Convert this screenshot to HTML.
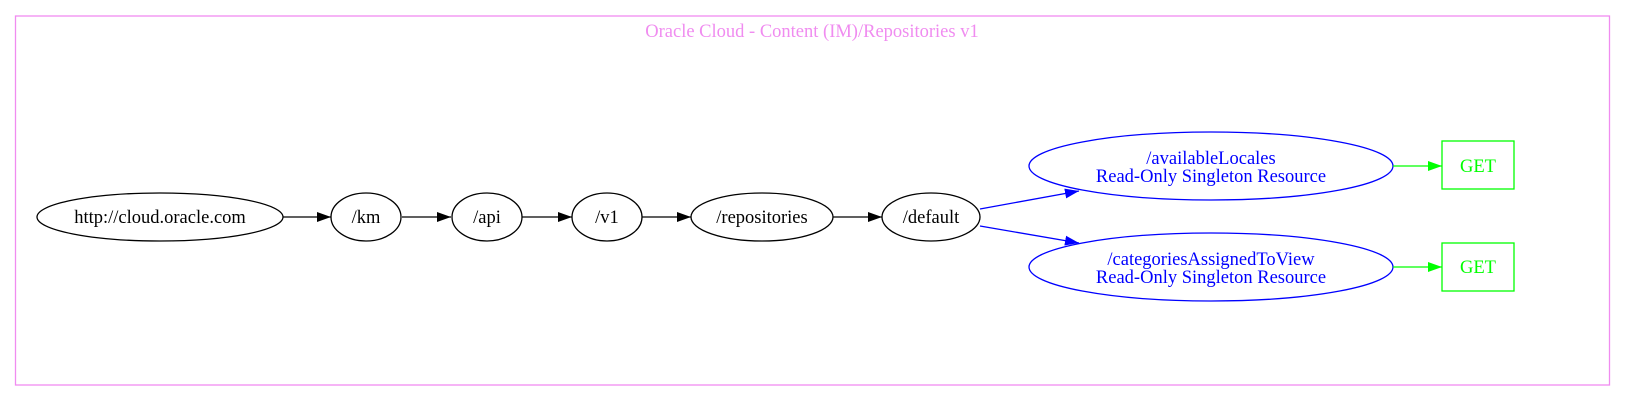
<!DOCTYPE html>
<html><head><style>
html,body{margin:0;padding:0;background:#fff;}
svg{display:block;}
text{font-family:"Liberation Serif",serif;font-size:18.5px;text-anchor:middle;}
</style></head><body>
<svg width="1627" height="403" viewBox="0 0 1627 403" xmlns="http://www.w3.org/2000/svg">
<defs>
<marker id="ak" markerWidth="14" markerHeight="10" refX="14" refY="5" orient="auto" markerUnits="userSpaceOnUse"><path d="M0,0 L14,5 L0,10 Z" fill="#000"/></marker>
<marker id="ab" markerWidth="14" markerHeight="10" refX="14" refY="5" orient="auto" markerUnits="userSpaceOnUse"><path d="M0,0 L14,5 L0,10 Z" fill="#00f"/></marker>
<marker id="ag" markerWidth="14" markerHeight="10" refX="14" refY="5" orient="auto" markerUnits="userSpaceOnUse"><path d="M0,0 L14,5 L0,10 Z" fill="#0f0"/></marker>
</defs>
<rect x="15.5" y="16" width="1594" height="369" fill="none" stroke="#f08cf0" stroke-width="1.3"/>
<text x="812" y="37" fill="#f08cf0">Oracle Cloud - Content (IM)/Repositories v1</text>
<g fill="none" stroke="#000" stroke-width="1.3">
<ellipse cx="160" cy="217" rx="123" ry="24"/>
<ellipse cx="366" cy="217" rx="35" ry="24"/>
<ellipse cx="487" cy="217" rx="35" ry="24"/>
<ellipse cx="607" cy="217" rx="35" ry="24"/>
<ellipse cx="762" cy="217" rx="71" ry="24"/>
<ellipse cx="931" cy="217" rx="49" ry="24"/>
<line x1="283" y1="217" x2="331" y2="217" marker-end="url(#ak)"/>
<line x1="402" y1="217" x2="451" y2="217" marker-end="url(#ak)"/>
<line x1="522" y1="217" x2="572" y2="217" marker-end="url(#ak)"/>
<line x1="642" y1="217" x2="691" y2="217" marker-end="url(#ak)"/>
<line x1="833" y1="217" x2="882" y2="217" marker-end="url(#ak)"/>
</g>
<g fill="#000">
<text x="160" y="223">http://cloud.oracle.com</text>
<text x="366" y="223">/km</text>
<text x="487" y="223">/api</text>
<text x="607" y="223">/v1</text>
<text x="762" y="223">/repositories</text>
<text x="931" y="223">/default</text>
</g>
<g fill="none" stroke="#00f" stroke-width="1.3">
<ellipse cx="1211" cy="166" rx="182" ry="34"/>
<ellipse cx="1211" cy="267" rx="182" ry="34"/>
<line x1="980" y1="209" x2="1079" y2="191" marker-end="url(#ab)"/>
<line x1="980" y1="226" x2="1079" y2="243" marker-end="url(#ab)"/>
</g>
<g fill="#00f">
<text x="1211" y="164">/availableLocales</text>
<text x="1211" y="182">Read-Only Singleton Resource</text>
<text x="1211" y="265">/categoriesAssignedToView</text>
<text x="1211" y="283">Read-Only Singleton Resource</text>
</g>
<g fill="none" stroke="#0f0" stroke-width="1.3">
<rect x="1442" y="141" width="72" height="48"/>
<rect x="1442" y="243" width="72" height="48"/>
<line x1="1393" y1="166" x2="1442" y2="166" marker-end="url(#ag)"/>
<line x1="1393" y1="267" x2="1442" y2="267" marker-end="url(#ag)"/>
</g>
<g fill="#0f0">
<text x="1478" y="172">GET</text>
<text x="1478" y="273">GET</text>
</g>
</svg>
</body></html>
